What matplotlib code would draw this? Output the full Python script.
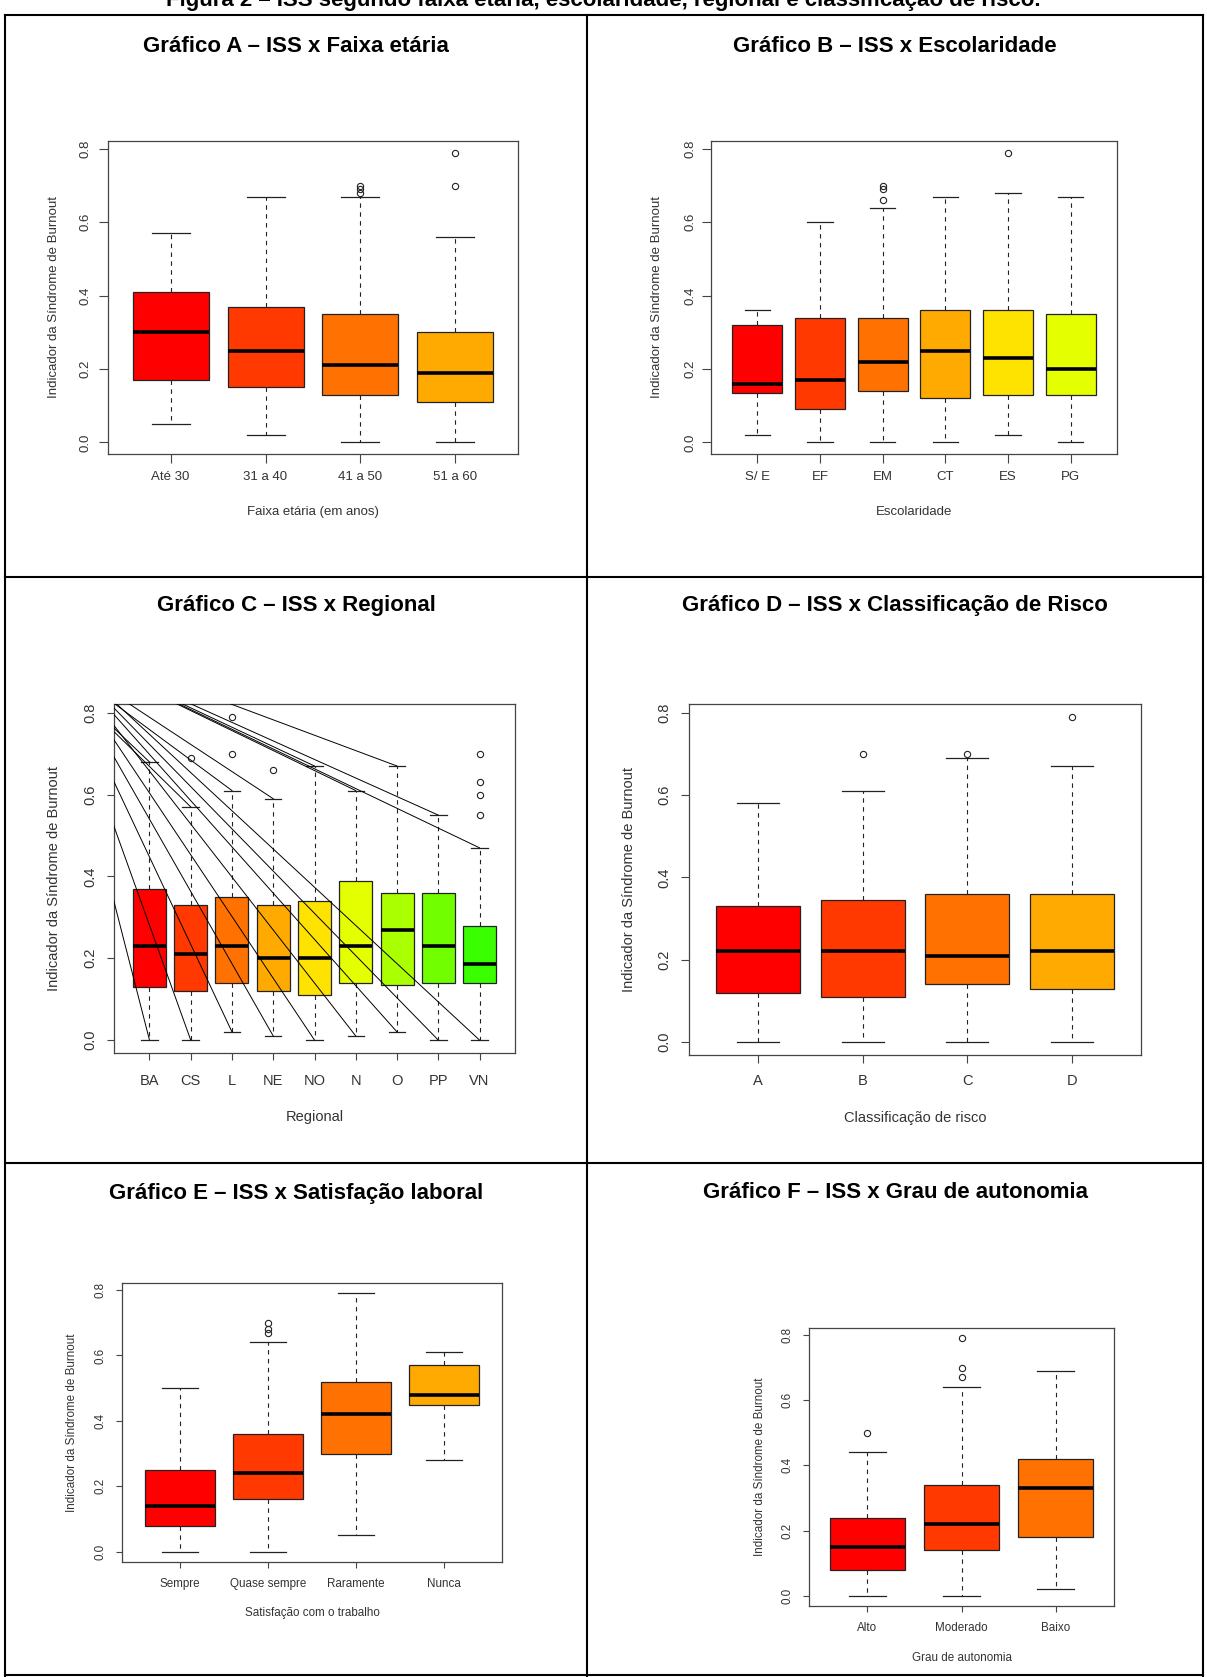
import matplotlib.pyplot as plt
from matplotlib.lines import Line2D
from matplotlib.ticker import FormatStrFormatter

plt.rcParams['font.family'] = ['Liberation Sans', 'DejaVu Sans']

W, H = 1207, 1677

# R rainbow palette (hue step 1/27)
palette = ['#FF0000', '#FF3900', '#FF7100', '#FFAA00', '#FFE300',
           '#E3FF00', '#AAFF00', '#71FF00', '#39FF00']

y_ticks = [0.0, 0.2, 0.4, 0.6, 0.8]
data_span = (0.0, 0.79)

# Grafico A - faixa etaria
faixa_labels = ['Até 30', '31 a 40', '41 a 50', '51 a 60']
faixa_lo = [0.05, 0.02, 0.00, 0.00]
faixa_q1 = [0.17, 0.15, 0.13, 0.11]
faixa_med = [0.30, 0.25, 0.21, 0.19]
faixa_q3 = [0.41, 0.37, 0.35, 0.30]
faixa_hi = [0.57, 0.67, 0.67, 0.56]
faixa_out = [[], [], [0.68, 0.69, 0.70], [0.70, 0.79]]

# Grafico B - escolaridade
esc_labels = ['S/ E', 'EF', 'EM', 'CT', 'ES', 'PG']
esc_lo = [0.02, 0.00, 0.00, 0.00, 0.02, 0.00]
esc_q1 = [0.135, 0.09, 0.14, 0.12, 0.13, 0.13]
esc_med = [0.16, 0.17, 0.22, 0.25, 0.23, 0.20]
esc_q3 = [0.32, 0.34, 0.34, 0.36, 0.36, 0.35]
esc_hi = [0.36, 0.60, 0.64, 0.67, 0.68, 0.67]
esc_out = [[], [], [0.66, 0.69, 0.70], [], [0.79], []]

# Grafico C - regional
reg_labels = ['BA', 'CS', 'L', 'NE', 'NO', 'N', 'O', 'PP', 'VN']
reg_lo = [0.00, 0.00, 0.02, 0.01, 0.00, 0.01, 0.02, 0.00, 0.00]
reg_q1 = [0.13, 0.12, 0.14, 0.12, 0.11, 0.14, 0.135, 0.14, 0.14]
reg_med = [0.23, 0.21, 0.23, 0.20, 0.20, 0.23, 0.27, 0.23, 0.185]
reg_q3 = [0.37, 0.33, 0.35, 0.33, 0.34, 0.39, 0.36, 0.36, 0.28]
reg_hi = [0.68, 0.57, 0.61, 0.59, 0.67, 0.61, 0.67, 0.55, 0.47]
reg_out = [[], [0.69], [0.70, 0.79], [0.66], [], [], [], [], [0.55, 0.60, 0.63, 0.70]]
# stray lines in the original plot, drawn from two points to the whisker ends
fan_low_origin = (-1.49, 0.98)
fan_high_origin = (-2.7, 1.035)

# Grafico D - classificacao de risco
risco_labels = ['A', 'B', 'C', 'D']
risco_lo = [0.00, 0.00, 0.00, 0.00]
risco_q1 = [0.12, 0.11, 0.14, 0.13]
risco_med = [0.22, 0.22, 0.21, 0.22]
risco_q3 = [0.33, 0.345, 0.36, 0.36]
risco_hi = [0.58, 0.61, 0.69, 0.67]
risco_out = [[], [0.70], [0.70], [0.79]]

# Grafico E - satisfacao laboral
sat_labels = ['Sempre', 'Quase sempre', 'Raramente', 'Nunca']
sat_lo = [0.00, 0.00, 0.05, 0.28]
sat_q1 = [0.08, 0.16, 0.30, 0.45]
sat_med = [0.14, 0.24, 0.42, 0.48]
sat_q3 = [0.25, 0.36, 0.52, 0.57]
sat_hi = [0.50, 0.64, 0.79, 0.61]
sat_out = [[], [0.67, 0.68, 0.70], [], []]

# Grafico F - grau de autonomia
aut_labels = ['Alto', 'Moderado', 'Baixo']
aut_lo = [0.00, 0.00, 0.02]
aut_q1 = [0.08, 0.14, 0.18]
aut_med = [0.15, 0.22, 0.33]
aut_q3 = [0.24, 0.34, 0.42]
aut_hi = [0.44, 0.64, 0.69]
aut_out = [[0.50], [0.67, 0.70, 0.79], []]

fig = plt.figure(figsize=(W / 100, H / 100), dpi=100)
fig.patch.set_facecolor('white')

ylab = 'Indicador da Síndrome de Burnout'
txt_col = '#333333'
frame_col = '#444444'


def px(v):
    return v / 1.389  # pixels -> points at 100 dpi


def panel(frame, labels, lo, q1, med, q3, hi, out, xlabel, fs, tick_len, offs):
    left, top, right, bottom = frame
    ax = fig.add_axes([left / W, 1 - bottom / H, (right - left) / W, (bottom - top) / H])
    n = len(labels)
    stats = []
    for i in range(n):
        stats.append(dict(whislo=lo[i], q1=q1[i], med=med[i], q3=q3[i],
                          whishi=hi[i], fliers=out[i], label=labels[i]))
    bp = ax.bxp(stats, positions=range(1, n + 1), widths=0.8, capwidths=0.4,
                patch_artist=True, showfliers=True,
                boxprops=dict(edgecolor='#222222', linewidth=0.9),
                medianprops=dict(color='black', linewidth=2.6, solid_capstyle='butt'),
                whiskerprops=dict(color='#222222', linewidth=0.8, linestyle=(0, (4, 4))),
                capprops=dict(color='#222222', linewidth=0.9),
                flierprops=dict(marker='o', markerfacecolor='none', markeredgecolor='#222222',
                                markersize=4.5, markeredgewidth=0.8))
    for patch, c in zip(bp['boxes'], palette):
        patch.set_facecolor(c)

    ext = 0.04 * (data_span[1] - data_span[0])
    ax.set_ylim(data_span[0] - ext, data_span[1] + ext)
    ax.set_xlim(0.5 - 0.04 * n, n + 0.5 + 0.04 * n)
    ax.set_yticks(y_ticks)
    ax.yaxis.set_major_formatter(FormatStrFormatter('%.1f'))
    ax.set_xticks(range(1, n + 1))
    ax.set_xticklabels(labels)

    fs_px = fs * 1.389
    xpad = px(offs[0] - 0.55 * fs_px - tick_len)
    ypad = px(offs[1] - 0.55 * fs_px - tick_len)
    ax.tick_params(axis='x', length=px(tick_len), width=0.8, color=frame_col,
                   labelsize=fs, labelcolor=txt_col, pad=xpad)
    ax.tick_params(axis='y', length=px(tick_len), width=0.8, color=frame_col,
                   labelsize=fs, labelcolor=txt_col, pad=ypad)
    for t in ax.get_yticklabels():
        t.set_rotation(90)
        t.set_va('center')
    for s in ax.spines.values():
        s.set_color(frame_col)
        s.set_linewidth(0.9)

    fig.text((left + right) / 2 / W, 1 - (bottom + offs[2]) / H, xlabel,
             ha='center', va='center', fontsize=fs, color=txt_col)
    fig.text((left - offs[3]) / W, 1 - (top + bottom) / 2 / H, ylab,
             ha='center', va='center', rotation=90, fontsize=fs, color=txt_col)
    return ax


# table lines
def hline(y, x0=5, x1=1203):
    fig.add_artist(Line2D([x0 / W, x1 / W], [1 - y / H, 1 - y / H], color='black', lw=1.5))


def vline(x, y0=15, y1=1676):
    fig.add_artist(Line2D([x / W, x / W], [1 - y0 / H, 1 - y1 / H], color='black', lw=1.5))


for y in [15, 577, 1163, 1675]:
    hline(y)
for x in [5, 587, 1203]:
    vline(x)

fig.text(0.5, 1 - 6 / H, 'Figura 2 – ISS segundo faixa etária, escolaridade, regional e classificação de risco.',
         ha='center', va='baseline', fontsize=16, fontweight='bold')

titles = [('Gráfico A – ISS x Faixa etária', 296, 46),
          ('Gráfico B – ISS x Escolaridade', 895, 46),
          ('Gráfico C – ISS x Regional', 296, 605),
          ('Gráfico D – ISS x Classificação de Risco', 895, 605),
          ('Gráfico E – ISS x Satisfação laboral', 296, 1193),
          ('Gráfico F – ISS x Grau de autonomia', 895, 1193)]
for t, x, y in titles:
    fig.text(x / W, 1 - y / H, t, ha='center', va='center', fontsize=16, fontweight='bold')

panel((108, 141, 518, 454), faixa_labels, faixa_lo, faixa_q1, faixa_med, faixa_q3,
      faixa_hi, faixa_out, 'Faixa etária (em anos)', 9.5, 9, (24, 24, 58, 54))
panel((711, 141, 1117, 454), esc_labels, esc_lo, esc_q1, esc_med, esc_q3,
      esc_hi, esc_out, 'Escolaridade', 9.5, 9, (24, 22, 58, 54))
axc = panel((114, 704, 515, 1053), reg_labels, reg_lo, reg_q1, reg_med, reg_q3,
            reg_hi, reg_out, 'Regional', 10.5, 7, (29, 25, 64, 60))
panel((689, 704, 1141, 1055), risco_labels, risco_lo, risco_q1, risco_med, risco_q3,
      risco_hi, risco_out, 'Classificação de risco', 10.5, 8, (27, 26, 63, 60))
panel((122, 1283, 502, 1562), sat_labels, sat_lo, sat_q1, sat_med, sat_q3,
      sat_hi, sat_out, 'Satisfação com o trabalho', 8.4, 6, (22, 22, 51, 50))
panel((809, 1328, 1114, 1606), aut_labels, aut_lo, aut_q1, aut_med, aut_q3,
      aut_hi, aut_out, 'Grau de autonomia', 8.4, 6, (22, 22, 52, 49))

# stray fan lines in grafico C
for i in range(len(reg_labels)):
    axc.plot([fan_low_origin[0], i + 1], [fan_low_origin[1], reg_lo[i]], color='black', lw=0.7, zorder=5)
    axc.plot([fan_high_origin[0], i + 1], [fan_high_origin[1], reg_hi[i]], color='black', lw=0.7, zorder=5)
axc.set_xlim(0.5 - 0.36, 9.5 + 0.36)
axc.set_ylim(-0.0316, 0.8216)

fig.savefig('out.png', dpi=100)
